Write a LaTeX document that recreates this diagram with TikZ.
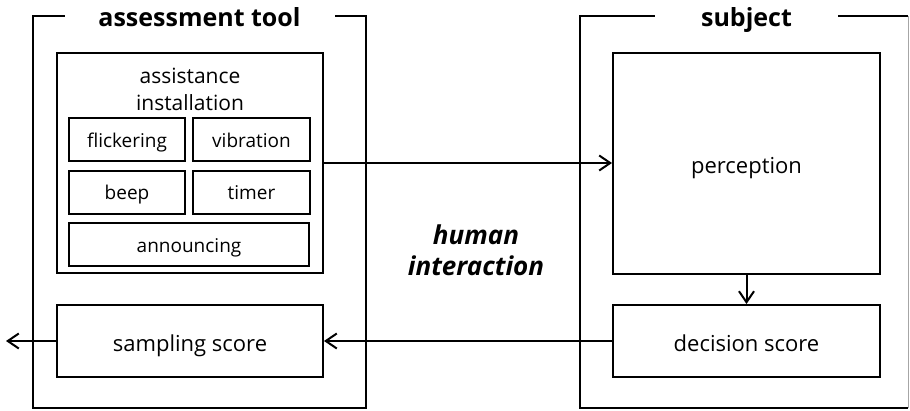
\documentclass[tikz,border=0pt]{standalone}
\usepackage{fontspec}
\setmainfont{Open Sans}
\usetikzlibrary{arrows.meta}

\tikzset{
  box/.style={draw, line width=2pt, rectangle, inner sep=0pt, text height=20pt, text depth=0pt, font=\fontsize{22}{26}\selectfont},
  smallbox/.style={box, minimum height=43pt, text height=15pt, font=\fontsize{19}{23}\selectfont},
  frame/.style={rectangle, inner sep=0pt},
  heading/.style={fill=white, inner xsep=0pt, inner ysep=3pt, text height=20pt, text depth=0pt, font=\fontsize{25}{29}\selectfont\bfseries},
  plain/.style={inner sep=0pt, anchor=base, font=\fontsize{21}{26}\selectfont},
  emph/.style={inner sep=0pt, anchor=base, font=\fontsize{26}{30}\selectfont\bfseries\itshape},
  flow/.style={line width=2pt, -{Straight Barb[length=11pt, width=15pt, line width=2pt]}},
}

\begin{document}
\begin{tikzpicture}[x=1pt, y=-1pt]
  \useasboundingbox (0,0) rectangle (910,410);

  % left group: the assessment tool
  \node[frame, draw, line width=2pt, minimum width=333pt, minimum height=392pt] (tool) at (199.5,212) {};
  \node[heading, minimum width=270pt] (tooltitle) at (199.5,16) {assessment tool};

  \node[box, minimum width=266pt, minimum height=220pt] (assist) at (190,163) {};
  \node[plain] (assisttext1) at (190,83) {assistance};
  \node[plain] (assisttext2) at (190,110) {installation};

  \node[smallbox, minimum width=116pt] (flicker) at (127,139.5) {flickering};
  \node[smallbox, minimum width=117pt] (vibr) at (251.5,139.5) {vibration};
  \node[smallbox, minimum width=116pt] (beep) at (127,192) {beep};
  \node[smallbox, minimum width=117pt] (timer) at (251.5,192) {timer};
  \node[smallbox, minimum width=240pt] (announce) at (189,244.5) {announcing};

  \node[box, minimum width=266pt, minimum height=72pt] (sampling) at (190,341) {sampling score};

  % right group: the subject
  \node[frame, minimum width=328pt, minimum height=392pt] (subj) at (744,212) {};
  \draw[line width=2pt] (subj.north east) -- (subj.north west) -- (subj.south west) -- (subj.south east);
  \draw[line width=1pt, black!35] (subj.south east) -- (subj.north east);
  \node[heading, minimum width=183pt] (subjtitle) at (746.5,16) {subject};

  \node[box, minimum width=267pt, minimum height=221pt] (percep) at (746.5,163.5) {perception};
  \node[box, minimum width=267pt, minimum height=72pt] (decision) at (746.5,341) {decision score};

  % interaction label
  \node[emph] (human1) at (476,244) {human};
  \node[emph] (human2) at (476,275) {interaction};

  % connectors
  \coordinate (out) at (6,341);
  \draw[flow] (assist.east |- 0,163) -- (percep.west |- 0,163);
  \draw[flow] (percep.south) -- (decision.north);
  \draw[flow] (decision.west) -- (sampling.east);
  \draw[flow] (sampling.west) -- (out);
\end{tikzpicture}
\end{document}
